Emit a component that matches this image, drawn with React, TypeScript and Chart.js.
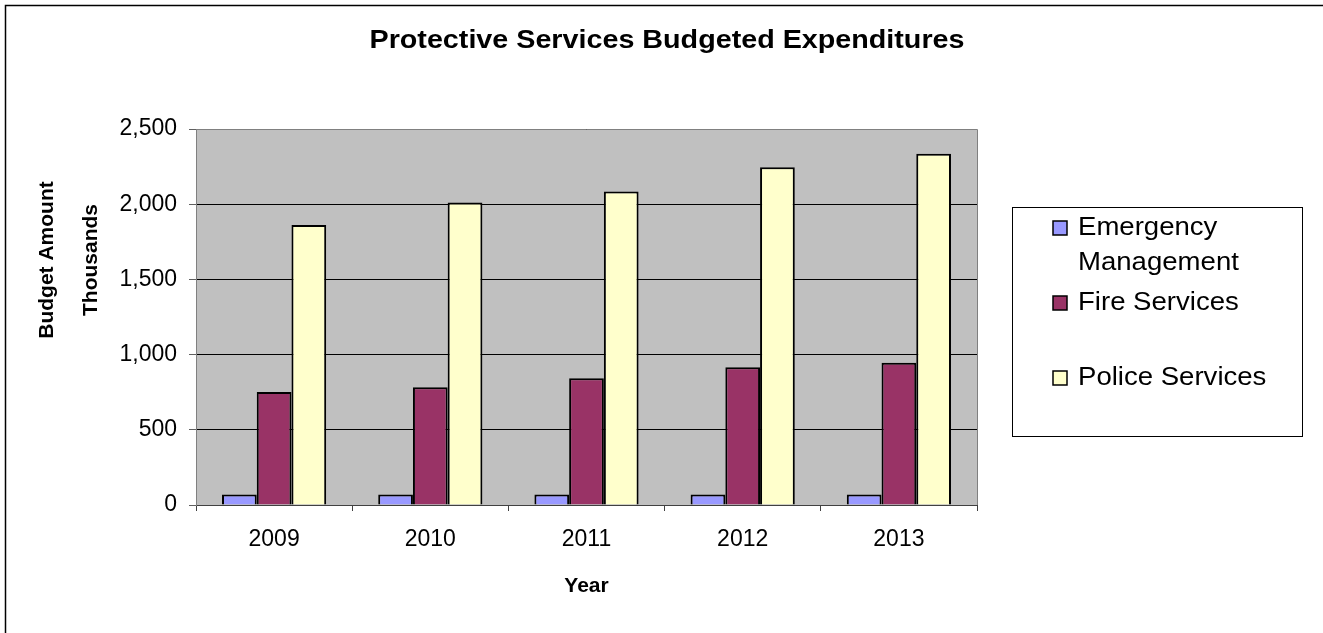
import React, { useEffect, useRef } from "react";
import { Chart, registerables } from "chart.js";

Chart.register(...registerables);

const categories = ["2009", "2010", "2011", "2012", "2013"];
const emergencyManagement = [70, 70, 70, 70, 70];
const fireServices = [752, 783, 843, 916, 945];
const policeServices = [1861, 2012, 2085, 2246, 2335];
const seriesNames = ["Emergency Management", "Fire Services", "Police Services"];
const seriesColors = ["#9999FF", "#993366", "#FFFFCC"];
const yMin = 0;
const yMax = 2500;
const yStep = 500;

const chartTitle = "Protective Services Budgeted Expenditures";
const xTitle = "Year";
const yTitleLines = ["Budget Amount", "Thousands"];

const FONT = "'Liberation Sans', Arial, sans-serif";

function wrapText(ctx: CanvasRenderingContext2D, text: string, maxW: number): string[] {
  const words = text.split(" ");
  const lines: string[] = [];
  let cur = "";
  for (const w of words) {
    const test = cur ? cur + " " + w : w;
    if (ctx.measureText(test).width > maxW && cur) {
      lines.push(cur);
      cur = w;
    } else {
      cur = test;
    }
  }
  if (cur) lines.push(cur);
  return lines;
}

const decorPlugin = {
  id: "decor",
  beforeDraw(chart: any) {
    const { ctx, chartArea } = chart;
    ctx.save();
    ctx.fillStyle = "#FFFFFF";
    ctx.fillRect(0, 0, chart.width, chart.height);
    ctx.fillStyle = "#C0C0C0";
    ctx.fillRect(chartArea.left, chartArea.top, chartArea.right - chartArea.left, chartArea.bottom - chartArea.top);
    ctx.restore();
  },
  afterDraw(chart: any) {
    const { ctx, chartArea } = chart;
    ctx.save();
    // plot frame (top & right)
    ctx.strokeStyle = "#808080";
    ctx.lineWidth = 1;
    ctx.beginPath();
    ctx.moveTo(chartArea.left, Math.round(chartArea.top) + 0.5);
    ctx.lineTo(Math.round(chartArea.right) + 0.5, Math.round(chartArea.top) + 0.5);
    ctx.lineTo(Math.round(chartArea.right) + 0.5, chartArea.bottom);
    ctx.stroke();

    // chart title (slightly widened like the original)
    ctx.fillStyle = "#000";
    ctx.font = `bold 25px ${FONT}`;
    ctx.textBaseline = "middle";
    ctx.textAlign = "center";
    const tw = ctx.measureText(chartTitle).width;
    const sx = 595 / tw;
    ctx.save();
    ctx.translate(667, 41);
    ctx.scale(sx, 1);
    ctx.fillText(chartTitle, 0, 0);
    ctx.restore();

    // x axis title
    ctx.font = `bold 21px ${FONT}`;
    ctx.fillText(xTitle, (chartArea.left + chartArea.right) / 2, 586);

    // y axis title
    const yc = 260;
    const xs = [47, 91];
    yTitleLines.forEach((ln, i) => {
      ctx.save();
      ctx.translate(xs[i], yc);
      ctx.rotate(-Math.PI / 2);
      ctx.fillText(ln, 0, 0);
      ctx.restore();
    });

    // legend box
    const lx = 1012, ly = 207, lw = 290, lh = 229;
    ctx.fillStyle = "#FFFFFF";
    ctx.fillRect(lx, ly, lw, lh);
    ctx.strokeStyle = "#000";
    ctx.lineWidth = 1;
    ctx.strokeRect(lx + 0.5, ly + 0.5, lw, lh);
    ctx.font = `26px ${FONT}`;
    ctx.textAlign = "left";
    ctx.textBaseline = "middle";
    const stretch = 1.06;
    chart.data.datasets.forEach((ds: any, i: number) => {
      const y0 = 228 + 75 * i;
      ctx.fillStyle = ds.backgroundColor;
      ctx.fillRect(1053, y0 - 7, 14, 14);
      ctx.strokeStyle = "#000";
      ctx.lineWidth = 1.5;
      ctx.strokeRect(1053, y0 - 7, 14, 14);
      ctx.fillStyle = "#000";
      const lines = wrapText(ctx, ds.label, (1296 - 1078) / stretch);
      lines.forEach((ln, j) => {
        ctx.save();
        ctx.translate(1078, y0 + 35 * j);
        ctx.scale(stretch, 1);
        ctx.fillText(ln, 0, 0);
        ctx.restore();
      });
    });

    // outer border (top and left visible)
    ctx.strokeStyle = "#000";
    ctx.lineWidth = 1.5;
    ctx.beginPath();
    ctx.moveTo(5.5, chart.height);
    ctx.lineTo(5.5, 5.5);
    ctx.lineTo(chart.width, 5.5);
    ctx.stroke();
    ctx.restore();
  },
};

export default function App() {
  const ref = useRef<HTMLCanvasElement | null>(null);

  useEffect(() => {
    document.body.style.margin = "0";
    const canvas = ref.current;
    if (!canvas) return;
    const seriesValues = [emergencyManagement, fireServices, policeServices];
    const chart = new Chart(canvas, {
      type: "bar",
      data: {
        labels: categories,
        datasets: seriesValues.map((vals, i) => ({
          label: seriesNames[i],
          data: vals,
          backgroundColor: seriesColors[i],
          borderColor: "#000000",
          borderWidth: 2,
          categoryPercentage: 0.667,
          barPercentage: 1.0,
        })),
      },
      options: {
        responsive: false,
        animation: false,
        devicePixelRatio: 1,
        layout: { padding: { top: 129, left: 0, right: 346, bottom: 0 } },
        plugins: {
          legend: { display: false },
          title: { display: false },
          tooltip: { enabled: false },
        },
        scales: {
          x: {
            afterFit: (scale: any) => {
              scale.height = 128;
            },
            grid: {
              offset: true,
              drawOnChartArea: false,
              drawTicks: true,
              tickLength: 6,
              tickColor: "#404040",
            },
            border: { color: "#404040", width: 1 },
            ticks: {
              color: "#000",
              padding: 15,
              font: { family: FONT, size: 23 },
              maxRotation: 0,
            },
          },
          y: {
            min: yMin,
            max: yMax,
            afterFit: (scale: any) => {
              scale.width = 196;
            },
            grid: {
              color: "#000000",
              lineWidth: 1,
              drawTicks: true,
              tickLength: 7,
              tickColor: "#606060",
            },
            border: { color: "#808080", width: 1 },
            ticks: {
              stepSize: yStep,
              color: "#000",
              padding: 12,
              font: { family: FONT, size: 23 },
              callback: (v: any) => Number(v).toLocaleString("en-US"),
            },
          },
        },
      },
      plugins: [decorPlugin],
    });
    return () => chart.destroy();
  }, []);

  return (
    <div style={{ width: 1323, height: 633, position: "relative", overflow: "hidden" }}>
      <canvas ref={ref} width={1323} height={633} style={{ display: "block", width: 1323, height: 633 }} />
    </div>
  );
}
